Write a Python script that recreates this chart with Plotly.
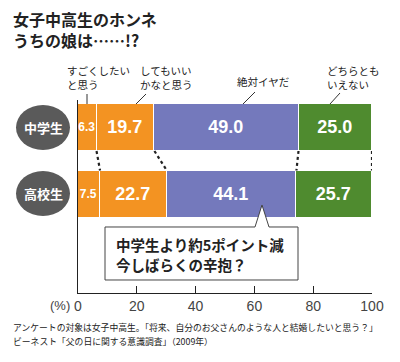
import plotly.graph_objects as go

# ---- data ----
groups = ["中学生", "高校生"]
answers = ["すごくしたい<br>と思う", "してもいい<br>かなと思う", "絶対イヤだ", "どちらとも<br>いえない"]
jhs = [6.3, 19.7, 49.0, 25.0]
hs = [7.5, 22.7, 44.1, 25.7]
colors = ["#F39322", "#F39322", "#7479BC", "#4F8B2F"]
tick_vals = [0, 20, 40, 60, 80, 100]
title_lines = ["女子中高生のホンネ", "うちの娘は……!?"]
callout_lines = ["中学生より約5ポイント減", "今しばらくの辛抱？"]
footnote_lines = ["アンケートの対象は女子中高生。「将来、自分のお父さんのような人と結婚したいと思う？」",
                  "ビーネスト「父の日に関する意識調査」（2009年）"]

W, H = 400, 362
L, R, T, B = 78, 28, 100, 69
PW, PH = W - L - R, H - T - B


def pxx(p):
    return (p - L) / PW


def pxy(p):
    return (H - B - p) / PH


# y positions: bar centres at pixel 127.5 and 194
c0, c1 = 127.5, 194.0
unit = c1 - c0
y_top = -(c0 - T) / unit
y_bot = 1 + (H - B - c1) / unit
bar_w = 47 / unit

fig = go.Figure()
num_font = "Liberation Sans Narrow, Liberation Sans, Arial, sans-serif"
for i in range(4):
    vals = [jhs[i], hs[i]]
    size = 12 if i == 0 else 18
    fig.add_trace(go.Bar(
        y=[0, 1], x=vals, orientation="h", width=bar_w,
        marker=dict(color=colors[i], line=dict(color="white", width=1.5)),
        text=[f"{v:.1f}" for v in vals], textposition="inside",
        insidetextanchor="middle", constraintext="none", textangle=0,
        textfont=dict(family=num_font, size=size, color="white", weight="bold"),
        showlegend=False, hoverinfo="skip"))

# dotted connectors between cumulative boundaries
cu, cl = 0, 0
for i in range(4):
    cu += jhs[i]
    cl += hs[i]
    fig.add_trace(go.Scatter(
        x=[cu, cl], y=[bar_w / 2, 1 - bar_w / 2], mode="lines",
        line=dict(color="#222", width=2.2, dash="dot"),
        showlegend=False, hoverinfo="skip"))

shapes = []
annos = []
jp = "Noto Sans CJK JP"

# circles with group labels
for name, (ya, yb) in zip(groups, [(105, 150), (171, 216)]):
    shapes.append(dict(type="circle", xref="paper", yref="paper",
                       x0=pxx(16), x1=pxx(70), y0=pxy(yb), y1=pxy(ya),
                       fillcolor="#5A5A5A", line=dict(width=0)))
    annos.append(dict(x=pxx(43), y=pxy((ya + yb) / 2), xref="paper", yref="paper",
                      xanchor="center", yanchor="middle",
                      text=f"<b>{name}</b>", showarrow=False,
                      font=dict(family=jp, size=13, color="white")))

# title (single two-line text)
annos.append(dict(x=pxx(12), y=pxy(29.5), xref="paper", yref="paper", xanchor="left",
                  yanchor="middle", align="left", borderpad=0,
                  text="<br>".join(f"<b>{t}</b>" for t in title_lines), showarrow=False,
                  font=dict(family=jp, size=16, color="#222")))

# category labels and leader lines
lab_pos = [(65, 77), (138, 77), (235, 81), (325, 77)]
leaders = [((87, 94), (87, 104)), ((146, 94), (136, 104)),
           ((255, 92), (243, 104)), ((340, 93), (330, 104))]
for txt, (lx, ly), ((x0, y0), (x1, y1)) in zip(answers, lab_pos, leaders):
    annos.append(dict(x=pxx(lx), y=pxy(ly), xref="paper", yref="paper", xanchor="left",
                      yanchor="middle", align="left", text=txt, showarrow=False,
                      font=dict(family=jp, size=10.5, color="#222")))
    shapes.append(dict(type="line", xref="paper", yref="paper", x0=pxx(x0), y0=pxy(y0),
                       x1=pxx(x1), y1=pxy(y1), line=dict(color="#333", width=1)))

# callout box
pts = [(105, 227), (255, 227), (262, 205), (269, 227), (298, 227), (298, 280), (105, 280)]
path = "M " + " L ".join(f"{pxx(a):.5f},{pxy(b):.5f}" for a, b in pts) + " Z"
shapes.append(dict(type="path", xref="paper", yref="paper", path=path,
                   fillcolor="white", line=dict(color="#444", width=1)))
for line, yc in zip(callout_lines, [244, 264.5]):
    annos.append(dict(x=pxx(114), y=pxy(yc), xref="paper", yref="paper", xanchor="left",
                      yanchor="middle", text=f"<b>{line}</b>", showarrow=False,
                      font=dict(family=jp, size=14.5, color="#222")))

# (%) label
annos.append(dict(x=pxx(72), y=pxy(305), xref="paper", yref="paper", xanchor="right",
                  yanchor="middle", text="(%)", showarrow=False,
                  font=dict(family="Liberation Sans, sans-serif", size=13, color="#444")))

# footnotes
for line, yc in zip(footnote_lines, [327, 341]):
    annos.append(dict(x=pxx(11), y=pxy(yc), xref="paper", yref="paper", xanchor="left",
                      yanchor="middle", text=line, showarrow=False,
                      font=dict(family=jp, size=8.8, color="#222")))

fig.update_layout(
    width=W, height=H, margin=dict(l=L, r=R, t=T, b=B),
    paper_bgcolor="white", plot_bgcolor="white", barmode="stack", bargap=0,
    shapes=shapes, annotations=annos, showlegend=False,
    xaxis=dict(range=[0, 100], tickvals=tick_vals, ticks="inside", ticklen=7,
               tickcolor="#222", showline=True, linecolor="#222", linewidth=1,
               showgrid=False, zeroline=False,
               tickfont=dict(family="Liberation Sans, sans-serif", size=14, color="#444")),
    yaxis=dict(range=[y_bot, y_top], showticklabels=False, showgrid=False,
               zeroline=False, showline=True, linecolor="#222", linewidth=1, ticks=""),
)

fig.write_html("out.html", post_script="document.body.style.margin='0';",
               config={"displayModeBar": False})
